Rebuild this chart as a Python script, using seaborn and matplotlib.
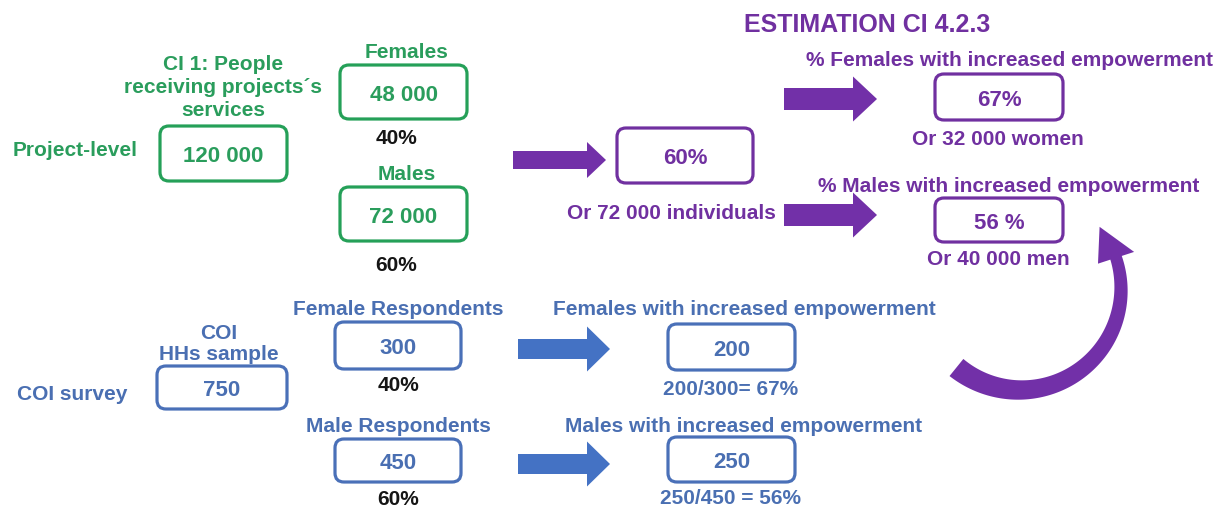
import numpy as np
import matplotlib
matplotlib.use("Agg")
import matplotlib.pyplot as plt
from matplotlib.patches import FancyBboxPatch, FancyArrow, Polygon
import seaborn as sns

# --- content ---------------------------------------------------------------
# project level (green)
project_caption = "CI 1: People\nreceiving projects´s\nservices"
project_row = "Project-level"
project_total = "120 000"
project_groups = ["Females", "Males"]
project_counts = ["48 000", "72 000"]
project_shares = ["40%", "60%"]

# estimation (purple)
estimate_title = "ESTIMATION CI 4.2.3"
estimate_total = "60%"
estimate_total_note = "Or 72 000 individuals"
estimate_groups = ["% Females with increased empowerment",
                   "% Males with increased empowerment"]
estimate_rates = ["67%", "56 %"]
estimate_notes = ["Or 32 000 women", "Or 40 000 men"]

# COI survey (blue)
survey_caption = "COI\nHHs sample"
survey_row = "COI survey"
survey_total = "750"
survey_groups = ["Female Respondents", "Male Respondents"]
survey_counts = ["300", "450"]
survey_shares = ["40%", "60%"]
result_groups = ["Females with increased empowerment",
                 "Males with increased empowerment"]
result_counts = ["200", "250"]
result_ratios = ["200/300= 67%", "250/450 = 56%"]

# --- layout (pixel coordinates, y grows downwards) --------------------------
GREEN = "#2a9d5c"
GREEN_EDGE = "#25a058"
PURPLE = "#7030a0"
PURPLE_ARROW = "#7230a8"
BLUE = "#4a6fb2"
BLUE_EDGE = "#4a70b8"
BLUE_ARROW = "#4472c4"
BLACK = "#151515"
FS = 15
BOX_FS = 16

sns.set_theme(style="white")
plt.rcParams["font.family"] = ["Liberation Sans", "DejaVu Sans"]

fig = plt.figure(figsize=(12.3, 5.1), dpi=100)
ax = fig.add_axes([0, 0, 1, 1])
ax.set_xlim(0, 1230)
ax.set_ylim(510, 0)
ax.axis("off")


def label(x, y, s, color, size=FS, spacing=23.5):
    # y is the visual centre of the capitals of the first line
    for i, line in enumerate(s.split("\n")):
        ax.text(x, y + i * spacing + 0.36 * size * 100 / 72, line,
                ha="center", va="baseline", fontsize=size,
                fontweight="bold", color=color)


def box(x0, y0, x1, y1, color, text, text_color):
    ax.add_patch(FancyBboxPatch((x0, y0), x1 - x0, y1 - y0,
                                boxstyle="round,pad=0,rounding_size=9",
                                linewidth=2.3, edgecolor=color,
                                facecolor="white"))
    label((x0 + x1) / 2, (y0 + y1) / 2, text, text_color, size=BOX_FS)


def arrow(x0, x1, y, color, body=21, head=45, head_len=24):
    ax.add_patch(FancyArrow(x0, y, x1 - x0, 0, width=body,
                            head_width=head, head_length=head_len,
                            length_includes_head=True, color=color, lw=0))


# green block
label(223, 62, project_caption, GREEN)
label(75, 149, project_row, GREEN)
box(160, 127, 287, 182, GREEN_EDGE, project_total, GREEN)
green_rows = [(50, 66, 120, 137), (173, 188, 242, 264)]
for (ty, b0, b1, sy), grp, cnt, shr in zip(green_rows, project_groups,
                                           project_counts, project_shares):
    label(407, ty, grp, GREEN)
    box(340, b0, 467, b1, GREEN_EDGE, cnt, GREEN)
    label(396, sy, shr, BLACK)

# purple block
label(867, 23, estimate_title, PURPLE, size=18)
arrow(513, 606, 161, PURPLE_ARROW, body=18, head=36, head_len=19)
box(617, 129, 753, 184, PURPLE, estimate_total, PURPLE)
label(671, 212, estimate_total_note, PURPLE)
purple_rows = [(58, 100, 75, 121, 138), (185, 216, 199, 243, 258)]
for (hy, ay, b0, b1, ny), grp, rate, note in zip(purple_rows, estimate_groups,
                                                 estimate_rates, estimate_notes):
    label(1009, hy, grp, PURPLE)
    arrow(784, 877, ay, PURPLE_ARROW, body=22, head=45, head_len=24)
    box(935, b0, 1063, b1, PURPLE, rate, PURPLE)
    label(998, ny, note, PURPLE)

# curved arrow from the survey results up to the males estimate
cx, cy, r = 1020, 290, 101
theta = np.radians(np.linspace(129, -18, 120))
width = np.linspace(22, 12, theta.size)
outer = np.c_[cx + (r + width / 2) * np.cos(theta), cy + (r + width / 2) * np.sin(theta)]
inner = np.c_[cx + (r - width / 2) * np.cos(theta), cy + (r - width / 2) * np.sin(theta)]
end = theta[-1]
head_half = 19
head_pts = np.array([
    [cx + (r + head_half) * np.cos(end), cy + (r + head_half) * np.sin(end)],
    [cx + r * np.cos(np.radians(-38)), cy + r * np.sin(np.radians(-38))],
    [cx + (r - head_half) * np.cos(end), cy + (r - head_half) * np.sin(end)],
])
shape = np.vstack([outer, head_pts, inner[::-1]])
ax.add_patch(Polygon(shape, closed=True, color=PURPLE_ARROW, lw=0))

# blue block
label(219, 332, survey_caption, BLUE, spacing=21)
label(72, 393, survey_row, BLUE)
box(157, 367, 287, 410, BLUE_EDGE, survey_total, BLUE)
blue_rows = [(308, 323, 370, 384, 350, 325, 371, 388),
             (425, 440, 483, 498, 465, 438, 483, 497)]
for (gy, b0, b1, sy, ay, r0, r1, ry), grp, cnt, shr, rg, rc, rr in zip(
        blue_rows, survey_groups, survey_counts, survey_shares,
        result_groups, result_counts, result_ratios):
    label(398, gy, grp, BLUE)
    box(335, b0, 461, b1, BLUE_EDGE, cnt, BLUE)
    label(398, sy, shr, BLACK)
    arrow(518, 610, ay, BLUE_ARROW, body=20, head=45, head_len=23)
    label(744, gy, rg, BLUE)
    box(668, r0, 795, r1, BLUE_EDGE, rc, BLUE)
    label(731, ry, rr, BLUE)

fig.savefig("out.png", dpi=100)
